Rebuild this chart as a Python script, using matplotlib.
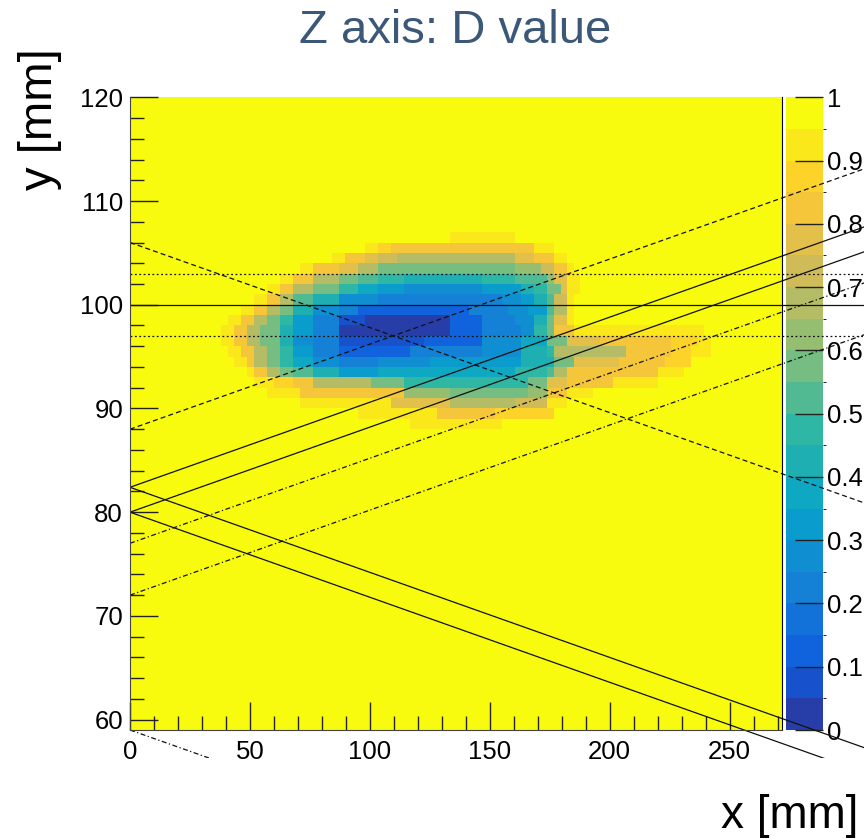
import numpy as np
import matplotlib
matplotlib.use("Agg")
import matplotlib.pyplot as plt
from matplotlib.colors import ListedColormap, LinearSegmentedColormap, BoundaryNorm
from matplotlib.transforms import Bbox, TransformedBbox
from matplotlib.ticker import MultipleLocator, FuncFormatter

plt.rcParams['font.family'] = ['Liberation Sans', 'DejaVu Sans']

# histogram binning (mm)
x_edges = np.linspace(0, 272, 101)
y_edges = np.arange(59, 121)

# D value per 1 mm row of y, as (x from, x to, D) runs; all other bins are 1
runs_y106 = [(134, 140, .93), (140, 158, .90), (158, 161, .93)]
runs_y105 = [(99, 104, .92), (104, 109, .87), (109, 122, .83), (122, 160, .80),
             (160, 170, .85), (170, 178, .91)]
runs_y104 = [(83, 90, .91), (90, 98, .85), (98, 104, .78), (104, 112, .74),
             (112, 122, .70), (122, 146, .67), (146, 160, .70), (160, 170, .77),
             (170, 176, .84), (176, 182, .91)]
runs_y103 = [(72, 77, .91), (77, 86, .85), (86, 94, .75), (94, 104, .66),
             (104, 113, .60), (113, 146, .55), (146, 160, .57), (160, 171, .64),
             (171, 176, .73), (176, 181, .84), (181, 186, .92)]
runs_y102 = [(63, 69, .91), (69, 77, .80), (77, 86, .70), (86, 94, .60),
             (94, 104, .50), (104, 113, .46), (113, 146, .43), (146, 161, .45),
             (161, 173, .52), (173, 177, .63), (177, 181, .78), (181, 187, .91)]
runs_y101 = [(58, 63, .91), (63, 69, .80), (69, 77, .66), (77, 86, .55),
             (86, 94, .45), (94, 104, .38), (104, 113, .34), (113, 146, .30),
             (146, 162, .34), (162, 170, .40), (170, 175, .47), (175, 179, .60),
             (179, 183, .78), (183, 187, .91)]
runs_y100 = [(52, 56, .91), (56, 63, .80), (63, 69, .65), (69, 77, .50),
             (77, 86, .40), (86, 94, .30), (94, 104, .25), (104, 146, .20),
             (146, 155, .24), (155, 162, .28), (162, 170, .35), (170, 175, .42),
             (175, 178, .52), (178, 182, .72), (182, 186, .91)]
runs_y99 = [(46, 52, .91), (52, 58, .80), (58, 63, .65), (63, 69, .55),
            (69, 77, .42), (77, 86, .30), (86, 94, .20), (94, 104, .15),
            (104, 142, .12), (142, 157, .20), (157, 166, .28), (166, 173, .35),
            (173, 176, .50), (176, 181, .70), (181, 185, .91)]
runs_y98 = [(42, 46, .91), (46, 52, .80), (52, 58, .65), (58, 63, .55),
            (63, 69, .45), (69, 77, .35), (77, 88, .22), (88, 97, .08),
            (97, 133, .03), (133, 146, .12), (146, 160, .20), (160, 170, .30),
            (170, 174, .42), (174, 177, .56), (177, 181, .75), (181, 184, .91)]
runs_y97 = [(39, 44, .91), (44, 49, .80), (49, 55, .65), (55, 63, .55),
            (63, 69, .42), (69, 77, .32), (77, 88, .20), (88, 133, .03),
            (133, 146, .12), (146, 163, .20), (163, 170, .30), (170, 175, .45),
            (175, 177, .60), (177, 185, .80), (185, 239, .90)]
runs_y96 = [(39, 44, .91), (44, 49, .80), (49, 55, .65), (55, 63, .55),
            (63, 69, .42), (69, 77, .30), (77, 88, .20), (88, 123, .06),
            (123, 146, .15), (146, 163, .25), (163, 173, .38), (173, 181, .60),
            (181, 195, .75), (195, 226, .80), (226, 236, .86), (236, 241, .92)]
runs_y95 = [(42, 46, .91), (46, 52, .80), (52, 58, .65), (58, 63, .55),
            (63, 69, .45), (69, 77, .35), (77, 88, .22), (88, 94, .15),
            (94, 104, .10), (104, 117, .15), (117, 146, .20), (146, 163, .30),
            (163, 173, .40), (173, 177, .47), (177, 194, .65), (194, 206, .70),
            (206, 225, .80), (225, 234, .86), (234, 241, .92)]
runs_y94 = [(44, 48, .91), (48, 52, .80), (52, 58, .65), (58, 63, .55),
            (63, 69, .47), (69, 77, .38), (77, 88, .28), (88, 104, .22),
            (104, 125, .25), (125, 163, .35), (163, 177, .42), (177, 184, .60),
            (184, 205, .75), (205, 223, .80), (223, 234, .88)]
runs_y93 = [(48, 52, .91), (52, 58, .80), (58, 63, .70), (63, 69, .60),
            (69, 77, .50), (77, 88, .42), (88, 104, .35), (104, 160, .38),
            (160, 173, .45), (173, 177, .50), (177, 183, .65), (183, 201, .80),
            (201, 219, .85), (219, 230, .91)]
runs_y92 = [(52, 60, .91), (60, 67, .87), (67, 75, .80), (75, 100, .70),
            (100, 113, .56), (113, 165, .48), (165, 173, .55), (173, 181, .75),
            (181, 201, .85), (201, 219, .91)]
runs_y91 = [(56, 70, .91), (70, 92, .85), (92, 113, .80), (113, 132, .62),
            (132, 167, .55), (167, 173, .62), (173, 181, .85), (181, 194, .91)]
runs_y90 = [(72, 110, .92), (110, 132, .76), (132, 160, .68), (160, 173, .73),
            (173, 181, .90)]
runs_y89 = [(95, 107, .93), (107, 128, .90), (128, 153, .85), (153, 176, .88)]
runs_y88 = [(118, 156, .93)]

row_runs = {106: runs_y106, 105: runs_y105, 104: runs_y104, 103: runs_y103,
            102: runs_y102, 101: runs_y101, 100: runs_y100, 99: runs_y99,
            98: runs_y98, 97: runs_y97, 96: runs_y96, 95: runs_y95,
            94: runs_y94, 93: runs_y93, 92: runs_y92, 91: runs_y91,
            90: runs_y90, 89: runs_y89, 88: runs_y88}

# tracks overlaid on the map: y at x = 0 and slope dy/dx
track_y0 = [100, 103, 97, 106, 88, 82.4, 80, 82.4, 80, 77, 72, 59]
track_slope = [0, 0, 0, -0.082, 0.082, 0.082, 0.082, -0.082, -0.082, 0.082, 0.082, -0.082]

DOT = (0, (1.5, 2))
DASH = (0, (4, 2.5))
DASHDOT = (0, (4, 2, 1, 2))
track_ls = ['-', DOT, DOT, DASH, DASH, '-', '-', '-', '-', DASHDOT, DASHDOT, DASHDOT]

# fill the histogram
x_mid = 0.5 * (x_edges[:-1] + x_edges[1:])
D = np.ones((len(y_edges) - 1, len(x_mid)))
for y_low, runs in row_runs.items():
    j = int(y_low - y_edges[0])
    for x0, x1, v in runs:
        D[j, (x_mid >= x0) & (x_mid < x1)] = v

# ROOT kBird palette, 20 contour levels
bird_rgb = [(0.2082, 0.1664, 0.5293), (0.0592, 0.3599, 0.8684), (0.0780, 0.5041, 0.8385),
            (0.0232, 0.6419, 0.7914), (0.1802, 0.7178, 0.6425), (0.5301, 0.7492, 0.4662),
            (0.8186, 0.7328, 0.3499), (0.9956, 0.7862, 0.1968), (0.9764, 0.9832, 0.0539)]
bird = LinearSegmentedColormap.from_list('bird', list(zip(np.linspace(0, 1, 9), bird_rgb)))
n_levels = 20
cmap = ListedColormap([bird(min((k + 0.99) / n_levels, 1.0)) for k in range(n_levels)])
cmap.set_over(bird(1.0))
norm = BoundaryNorm(np.linspace(0, 1, n_levels + 1), cmap.N)

W, H = 864, 838
fig = plt.figure(figsize=(W / 100, H / 100), dpi=100)


def box(left, top, right, bottom):
    return [left / W, 1 - bottom / H, (right - left) / W, (bottom - top) / H]


cax = fig.add_axes(box(786, 97.3, 823, 730), zorder=1)
ax = fig.add_axes(box(130, 97.3, 782.3, 730), zorder=2)

mesh = ax.pcolormesh(x_edges, y_edges, D, cmap=cmap, norm=norm)
ax.set_xlim(0, 272)
ax.set_ylim(59, 120)

# tracks run past the frame, cut only below the pad
clip = TransformedBbox(Bbox([[0, 56.3], [330, 130]]), ax.transData)
xs = np.array([0, 330])
for y0, k, ls in zip(track_y0, track_slope, track_ls):
    ln, = ax.plot(xs, y0 + k * xs, color='#111111', lw=0.9, ls=ls)
    ln.set_clip_box(clip)

ax.xaxis.set_major_locator(MultipleLocator(50))
ax.xaxis.set_minor_locator(MultipleLocator(10))
ax.yaxis.set_major_locator(MultipleLocator(10))
ax.yaxis.set_minor_locator(MultipleLocator(2))
ax.tick_params(which='both', direction='in', top=False, right=False,
               width=1, color='#222222', labelsize=18.5)
ax.tick_params(axis='x', which='major', length=20, pad=7)
ax.tick_params(axis='y', which='major', length=20, pad=5)
ax.tick_params(which='minor', length=10)
ax.spines['top'].set_visible(False)
for side in ('left', 'bottom'):
    ax.spines[side].set_color('#444444')
ax.spines['right'].set_color('black')

cb = fig.colorbar(mesh, cax=cax, ticks=np.linspace(0, 1, 11))
cb.outline.set_visible(False)
cax.yaxis.set_major_formatter(FuncFormatter(lambda v, _: f'{v:g}'))
cax.tick_params(direction='in', length=20, width=1, color='#222222', labelsize=18.5, pad=3)

fig.text(455 / W, 1 - 31 / H, 'Z axis: D value', ha='center', va='center',
         fontsize=34, color='#3b5878')
fig.text(40 / W, 1 - 48 / H, 'y [mm]', rotation=90, ha='center', va='top', fontsize=34)
fig.text(858 / W, 1 - 816 / H, 'x [mm]', ha='right', va='center', fontsize=33)

fig.savefig('out.png', dpi=100)
